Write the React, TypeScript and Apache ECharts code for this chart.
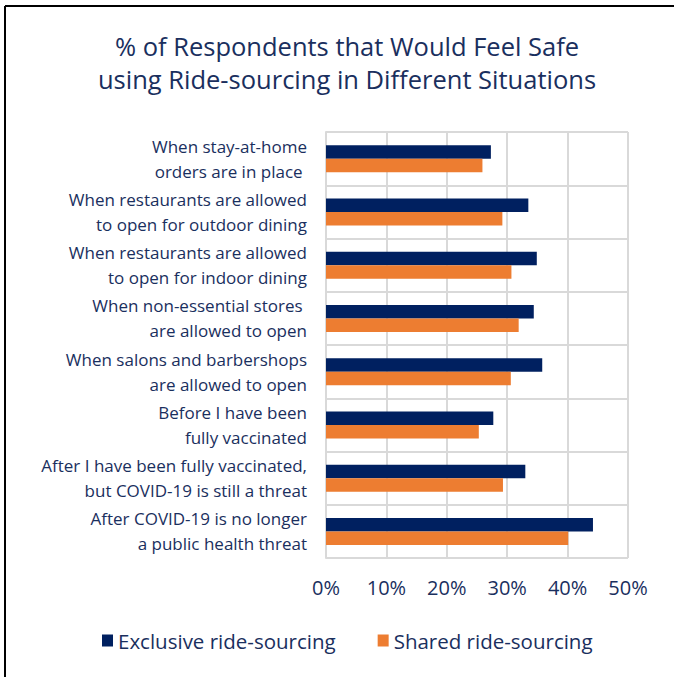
import React, { useEffect, useRef } from "react";
import * as echarts from "echarts";

const categories = [
  "When stay-at-home\norders are in place ",
  "When restaurants are allowed\nto open for outdoor dining",
  "When restaurants are allowed\nto open for indoor dining",
  "When non-essential stores \nare allowed to open",
  "When salons and barbershops\nare allowed to open",
  "Before I have been\nfully vaccinated",
  "After I have been fully vaccinated,\nbut COVID-19 is still a threat",
  "After COVID-19 is no longer\na public health threat",
];
const exclusive = [27.3, 33.5, 34.9, 34.4, 35.8, 27.7, 33.0, 44.2];
const shared = [25.9, 29.2, 30.7, 31.9, 30.6, 25.3, 29.3, 40.1];
const seriesNames = ["Exclusive ride-sourcing", "Shared ride-sourcing"];
const titleText = "% of Respondents that Would Feel Safe\nusing Ride-sourcing in Different Situations";

const TEXT = "#1a2f5e";
const NAVY = "#002060";
const ORANGE = "#ed7d31";
const GRID = "#d9d9d9";
const FONT = "'Open Sans', sans-serif";

export default function App() {
  const ref = useRef<HTMLDivElement>(null);
  useEffect(() => {
    if (!ref.current) return;
    const chart = echarts.init(ref.current, undefined, { renderer: "svg" });
    chart.setOption({
      animation: false,
      backgroundColor: "#ffffff",
      textStyle: { fontFamily: FONT },
      title: {
        text: titleText,
        left: 342,
        textAlign: "center",
        top: 24,
        textStyle: { fontFamily: FONT, fontSize: 25.5, fontWeight: "normal", color: TEXT, lineHeight: 33 },
      },
      graphic: [
        { type: "line", shape: { x1: 5, y1: 6, x2: 674, y2: 6 }, style: { stroke: "#000", lineWidth: 2 } },
        { type: "line", shape: { x1: 5, y1: 6, x2: 5, y2: 677 }, style: { stroke: "#000", lineWidth: 2 } },
      ],
      legend: {
        left: 97,
        top: 625,
        itemWidth: 11,
        itemHeight: 12,
        itemGap: 42,
        icon: "rect",
        textStyle: { fontFamily: FONT, fontSize: 20.5, color: TEXT, padding: [0, 0, 0, 0] },
        data: seriesNames,
      },
      grid: { left: 326, right: 46, top: 132, bottom: 119, containLabel: false },
      xAxis: {
        type: "value",
        min: 0,
        max: 50,
        interval: 10,
        axisLine: { show: false },
        axisTick: { show: false },
        splitLine: { show: true, lineStyle: { color: GRID, width: 2 } },
        axisLabel: { formatter: "{value}%", fontFamily: FONT, fontSize: 20, color: TEXT, margin: 19 },
      },
      yAxis: {
        type: "category",
        inverse: true,
        data: categories,
        axisLine: { show: true, lineStyle: { color: GRID, width: 2 } },
        axisTick: { show: false },
        splitLine: { show: true, lineStyle: { color: GRID, width: 2 } },
        axisLabel: { fontFamily: FONT, fontSize: 17, lineHeight: 25, color: TEXT, margin: 19, align: "right" },
      },
      series: [
        {
          name: seriesNames[0],
          type: "bar",
          data: exclusive,
          itemStyle: { color: NAVY },
          barWidth: 13.5,
          barGap: "0%",
        },
        {
          name: seriesNames[1],
          type: "bar",
          data: shared,
          itemStyle: { color: ORANGE },
          barWidth: 13.5,
          barGap: "0%",
        },
      ],
    });
    return () => chart.dispose();
  }, []);
  return (
    <div
      ref={ref}
      style={{ position: "fixed", left: 0, top: 0, width: 674, height: 677 }}
    />
  );
}
